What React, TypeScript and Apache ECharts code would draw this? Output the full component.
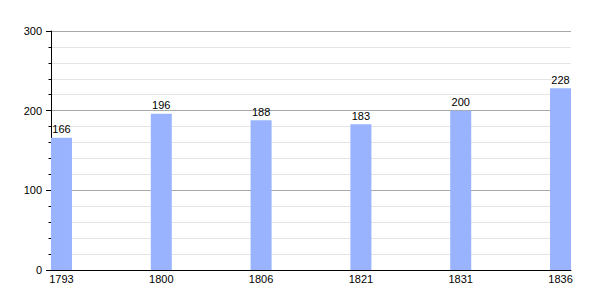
import React, { useEffect, useRef } from "react";
import * as echarts from "echarts";

const years = ["1793", "1800", "1806", "1821", "1831", "1836"];
const population = [166, 196, 188, 183, 200, 228];
const yTicks = [0, 100, 200, 300];

export default function App() {
  const ref = useRef<HTMLDivElement>(null);
  useEffect(() => {
    if (!ref.current) return;
    const chart = echarts.init(ref.current, null, { renderer: "svg" });
    const font = "Liberation Sans, Arial, sans-serif";
    chart.setOption({
      animation: false,
      grid: { left: 51, right: 29, top: 31, bottom: 30 },
      xAxis: {
        type: "value",
        min: -0.105,
        max: years.length - 1 + 0.105,
        axisLine: { show: true, onZero: false, lineStyle: { color: "#000", width: 1 } },
        axisTick: { show: false },
        splitLine: { show: false },
        axisLabel: {
          customValues: years.map((_, i) => i),
          formatter: (v: number) => years[Math.round(v)] ?? "",
          color: "#000",
          fontSize: 11,
          fontFamily: font,
          margin: 3,
        },
      },
      yAxis: {
        type: "value",
        min: yTicks[0],
        max: yTicks[yTicks.length - 1],
        interval: 100,
        axisLine: { show: true, onZero: false, lineStyle: { color: "#000", width: 1 } },
        axisTick: { show: true, length: 5, lineStyle: { color: "#000" } },
        minorTick: { show: true, splitNumber: 5, length: 2.5, lineStyle: { color: "#000" } },
        splitLine: { show: true, lineStyle: { color: "#a8a8a8", width: 1 } },
        minorSplitLine: { show: true, lineStyle: { color: "#e4e4e4", width: 1 } },
        axisLabel: { color: "#000", fontSize: 11, fontFamily: font, margin: 9 },
      },
      series: [
        {
          type: "bar",
          data: population.map((v, i) => [i, v]),
          barWidth: 21,
          itemStyle: { color: "#99b3ff" },
          label: {
            show: true,
            position: "top",
            distance: 3,
            color: "#000",
            fontSize: 11,
            fontFamily: font,
            formatter: (p: any) => String(p.value[1]),
          },
        },
      ],
    });
    return () => chart.dispose();
  }, []);
  return (
    <div
      ref={ref}
      style={{ position: "fixed", left: 0, top: 0, width: 600, height: 300, background: "#fff" }}
    />
  );
}
